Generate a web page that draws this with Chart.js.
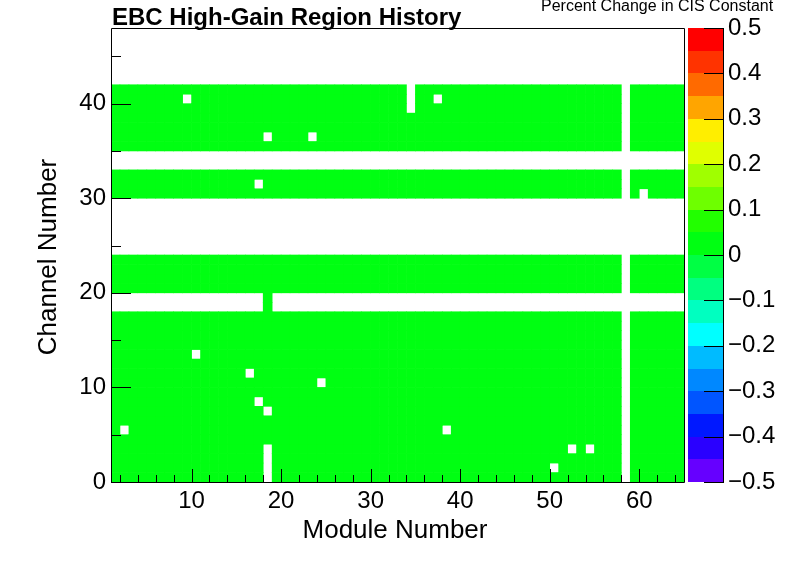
<!DOCTYPE html>
<html>
<head>
<meta charset="utf-8">
<title>EBC High-Gain Region History</title>
<script src="https://cdn.jsdelivr.net/npm/chart.js@4.4.1/dist/chart.umd.min.js"></script>
<style>
  html, body { margin: 0; padding: 0; background: #fff; }
  #wrap { width: 796px; height: 574px; position: relative; }
</style>
</head>
<body>
<div id="wrap"><canvas id="map"></canvas></div>
<script>
// x bins: module m covers [m, m+1]
const modules = [1, 2, 3, 4, 5, 6, 7, 8, 9, 10, 11, 12, 13, 14, 15, 16,
                 17, 18, 19, 20, 21, 22, 23, 24, 25, 26, 27, 28, 29, 30, 31, 32,
                 33, 34, 35, 36, 37, 38, 39, 40, 41, 42, 43, 44, 45, 46, 47, 48,
                 49, 50, 51, 52, 53, 54, 55, 56, 57, 58, 59, 60, 61, 62, 63, 64];

// y bins, listed top-down as in the picture: channel c covers [c, c+1]
const channels = [47, 46, 45, 44, 43, 42, 41, 40, 39, 38, 37, 36, 35, 34, 33, 32,
                  31, 30, 29, 28, 27, 26, 25, 24, 23, 22, 21, 20, 19, 18, 17, 16,
                  15, 14, 13, 12, 11, 10, 9, 8, 7, 6, 5, 4, 3, 2, 1, 0];

// one row per channel, one character per module (groups of ten modules)
// '0' = 0 % change, '.' = empty bin
const cellRows = [
  '.......... .......... .......... .......... .......... .......... ....', // 47
  '.......... .......... .......... .......... .......... .......... ....', // 46
  '.......... .......... .......... .......... .......... .......... ....', // 45
  '.......... .......... .......... .......... .......... .......... ....', // 44
  '.......... .......... .......... .......... .......... .......... ....', // 43
  '.......... .......... .......... .......... .......... .......... ....', // 42
  '0000000000 0000000000 0000000000 000.000000 0000000000 0000000.00 0000', // 41
  '00000000.0 0000000000 0000000000 000.00.000 0000000000 0000000.00 0000', // 40
  '0000000000 0000000000 0000000000 000.000000 0000000000 0000000.00 0000', // 39
  '0000000000 0000000000 0000000000 0000000000 0000000000 0000000.00 0000', // 38
  '0000000000 0000000000 0000000000 0000000000 0000000000 0000000.00 0000', // 37
  '0000000000 0000000.00 00.0000000 0000000000 0000000000 0000000.00 0000', // 36
  '0000000000 0000000000 0000000000 0000000000 0000000000 0000000.00 0000', // 35
  '.......... .......... .......... .......... .......... .......... ....', // 34
  '.......... .......... .......... .......... .......... .......... ....', // 33
  '0000000000 0000000000 0000000000 0000000000 0000000000 0000000.00 0000', // 32
  '0000000000 000000.000 0000000000 0000000000 0000000000 0000000.00 0000', // 31
  '0000000000 0000000000 0000000000 0000000000 0000000000 0000000.0. 0000', // 30
  '.......... .......... .......... .......... .......... .......... ....', // 29
  '.......... .......... .......... .......... .......... .......... ....', // 28
  '.......... .......... .......... .......... .......... .......... ....', // 27
  '.......... .......... .......... .......... .......... .......... ....', // 26
  '.......... .......... .......... .......... .......... .......... ....', // 25
  '.......... .......... .......... .......... .......... .......... ....', // 24
  '0000000000 0000000000 0000000000 0000000000 0000000000 0000000.00 0000', // 23
  '0000000000 0000000000 0000000000 0000000000 0000000000 0000000.00 0000', // 22
  '0000000000 0000000000 0000000000 0000000000 0000000000 0000000.00 0000', // 21
  '0000000000 0000000000 0000000000 0000000000 0000000000 0000000.00 0000', // 20
  '.......... .......0.. .......... .......... .......... .......... ....', // 19
  '.......... .......0.. .......... .......... .......... .......... ....', // 18
  '0000000000 0000000000 0000000000 0000000000 0000000000 0000000.00 0000', // 17
  '0000000000 0000000000 0000000000 0000000000 0000000000 0000000.00 0000', // 16
  '0000000000 0000000000 0000000000 0000000000 0000000000 0000000.00 0000', // 15
  '0000000000 0000000000 0000000000 0000000000 0000000000 0000000.00 0000', // 14
  '000000000. 0000000000 0000000000 0000000000 0000000000 0000000.00 0000', // 13
  '0000000000 0000000000 0000000000 0000000000 0000000000 0000000.00 0000', // 12
  '0000000000 00000.0000 0000000000 0000000000 0000000000 0000000.00 0000', // 11
  '0000000000 0000000000 000.000000 0000000000 0000000000 0000000.00 0000', // 10
  '0000000000 0000000000 0000000000 0000000000 0000000000 0000000.00 0000', // 9
  '0000000000 000000.000 0000000000 0000000000 0000000000 0000000.00 0000', // 8
  '0000000000 0000000.00 0000000000 0000000000 0000000000 0000000.00 0000', // 7
  '0000000000 0000000000 0000000000 0000000000 0000000000 0000000.00 0000', // 6
  '0.00000000 0000000000 0000000000 0000000.00 0000000000 0000000.00 0000', // 5
  '0000000000 0000000000 0000000000 0000000000 0000000000 0000000.00 0000', // 4
  '0000000000 0000000.00 0000000000 0000000000 0000000000 0.0.000.00 0000', // 3
  '0000000000 0000000.00 0000000000 0000000000 0000000000 0000000.00 0000', // 2
  '0000000000 0000000.00 0000000000 0000000000 000000000. 0000000.00 0000', // 1
  '0000000000 0000000.00 0000000000 0000000000 0000000000 0000000.00 0000'  // 0
];
const cellValues = { '0': 0.0 };

const xTicks = [2, 4, 6, 8, 10, 12, 14, 16, 18, 20, 22, 24, 26, 28, 30, 32,
                34, 36, 38, 40, 42, 44, 46, 48, 50, 52, 54, 56, 58, 60, 62, 64];
const xLabels = [10, 20, 30, 40, 50, 60];
const yTicks = [0, 5, 10, 15, 20, 25, 30, 35, 40, 45];
const yLabels = [0, 10, 20, 30, 40];

// colour scale, 20 contours from -0.5 to 0.5
const zMin = -0.5, zMax = 0.5;
const zTicks = [-0.5, -0.4, -0.3, -0.2, -0.1, 0, 0.1, 0.2, 0.3, 0.4, 0.5];
const palette = ['#6600ff', '#2a00ff', '#0018ff', '#0055ff', '#0088ff',
                 '#00bbff', '#00ffff', '#00ffc0', '#00ff80', '#00ff44',
                 '#00ff12', '#22ff00', '#6eff00', '#a0ff00', '#e0ff00',
                 '#ffee00', '#ffa500', '#ff6a00', '#ff3300', '#ff0000'];

function colourFor(v) {
  const step = (zMax - zMin) / palette.length;
  let i = Math.floor((v - zMin) / step + 1e-9);
  i = Math.max(0, Math.min(palette.length - 1, i));
  return palette[i];
}

// one floating-bar dataset per channel
const datasets = cellRows.map((row, r) => {
  const ch = channels[r];
  const s = row.replace(/ /g, '');
  const pts = [];
  const cols = [];
  modules.forEach((m, j) => {
    const v = cellValues[s[j]];
    if (v === undefined) return;
    pts.push({ x: m + 0.5, y: [ch, ch + 1] });
    cols.push(colourFor(v));
  });
  return {
    data: pts,
    backgroundColor: cols,
    borderWidth: 0,
    grouped: false,
    barPercentage: 1,
    categoryPercentage: 1
  };
});

const fmtZ = v => v === 0 ? '0' : (v < 0 ? '\u2212' : '') + Math.abs(v).toFixed(1);

// fixed axis boxes so the frame sits where the original one does
const fixBox = (w, h) => s => {
  if (w !== null) s.width = w;
  if (h !== null) s.height = h;
  s.paddingTop = 0;
  s.paddingBottom = 0;
  s.paddingLeft = 0;
  s.paddingRight = 0;
};

// ROOT-like frame, inner ticks, colour bar and titles
const rootStyle = {
  id: 'rootStyle',
  afterDraw(chart) {
    const { ctx, chartArea: a } = chart;
    const { x, y, z } = chart.scales;
    ctx.save();

    // colour bar
    const barL = a.right + 4, barR = a.right + 39;
    const step = (zMax - zMin) / palette.length;
    palette.forEach((c, i) => {
      const top = Math.round(z.getPixelForValue(zMin + (i + 1) * step));
      const bot = Math.round(z.getPixelForValue(zMin + i * step));
      ctx.fillStyle = c;
      ctx.fillRect(barL, top, barR - barL, bot - top);
    });

    ctx.strokeStyle = '#000';
    ctx.lineWidth = 1;
    ctx.beginPath();
    ctx.moveTo(barR + 0.5, a.top);
    ctx.lineTo(barR + 0.5, a.bottom + 1);
    z.ticks.forEach(t => {
      const py = Math.round(z.getPixelForValue(t.value)) + 0.5;
      ctx.moveTo(barR - 19, py);
      ctx.lineTo(barR + 1, py);
    });

    // frame
    ctx.rect(a.left + 0.5, a.top + 0.5, a.right - a.left, a.bottom - a.top);

    // inner ticks
    x.ticks.forEach(t => {
      const px = Math.round(x.getPixelForValue(t.value)) + 0.5;
      const len = xLabels.includes(t.value) ? 13 : 7;
      ctx.moveTo(px, a.bottom);
      ctx.lineTo(px, a.bottom - len);
    });
    y.ticks.forEach(t => {
      const py = Math.round(y.getPixelForValue(t.value)) + 0.5;
      const len = yLabels.includes(t.value) ? 20 : 10;
      ctx.moveTo(a.left, py);
      ctx.lineTo(a.left + len, py);
    });
    ctx.stroke();

    // titles
    ctx.fillStyle = '#000';
    ctx.textBaseline = 'alphabetic';
    ctx.textAlign = 'left';
    ctx.font = 'bold 24px "Liberation Sans", Arial, sans-serif';
    ctx.fillText('EBC High-Gain Region History', 112, 25);
    ctx.font = '16px "Liberation Sans", Arial, sans-serif';
    ctx.fillText('Percent Change in CIS Constant', 541, 11);

    ctx.font = '26px "Liberation Sans", Arial, sans-serif';
    ctx.textAlign = 'center';
    ctx.fillText('Module Number', 395, 538);
    ctx.translate(56, 257);
    ctx.rotate(-Math.PI / 2);
    ctx.fillText('Channel Number', 0, 0);
    ctx.restore();
  }
};

Chart.defaults.font.family = '"Liberation Sans", Arial, sans-serif';
Chart.defaults.color = '#000';

new Chart(document.getElementById('map'), {
  type: 'bar',
  data: { datasets: datasets },
  options: {
    responsive: true,
    maintainAspectRatio: false,
    animation: false,
    layout: { padding: { top: 28, left: 0, right: 0, bottom: 0 } },
    plugins: {
      legend: { display: false },
      tooltip: { enabled: false }
    },
    scales: {
      x: {
        type: 'linear',
        min: 1,
        max: 65,
        offset: false,
        grid: { display: false, drawTicks: false, offset: false },
        border: { display: false },
        afterBuildTicks: s => { s.ticks = xTicks.map(v => ({ value: v })); },
        afterFit: fixBox(null, 92),
        ticks: {
          autoSkip: false,
          maxRotation: 0,
          padding: 5,
          font: { size: 24 },
          callback: v => xLabels.includes(v) ? String(v) : ''
        }
      },
      y: {
        type: 'linear',
        min: 0,
        max: 48,
        grid: { display: false, drawTicks: false },
        border: { display: false },
        afterBuildTicks: s => { s.ticks = yTicks.map(v => ({ value: v })); },
        afterFit: fixBox(111, null),
        ticks: {
          autoSkip: false,
          padding: 5,
          font: { size: 24 },
          callback: v => yLabels.includes(v) ? String(v) : ''
        }
      },
      z: {
        type: 'linear',
        position: 'right',
        min: zMin,
        max: zMax,
        grid: { display: false, drawTicks: false },
        border: { display: false },
        afterBuildTicks: s => { s.ticks = zTicks.map(v => ({ value: v })); },
        afterFit: fixBox(112, null),
        ticks: {
          autoSkip: false,
          padding: 44,
          font: { size: 24 },
          callback: fmtZ
        }
      }
    }
  },
  plugins: [rootStyle]
});
</script>
</body>
</html>
